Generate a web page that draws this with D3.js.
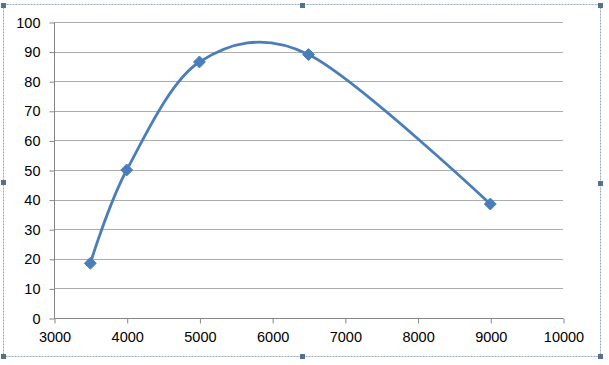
<!DOCTYPE html>
<html>
<head>
<meta charset="utf-8">
<script src="https://cdn.jsdelivr.net/npm/d3@7"></script>
<style>
  body { margin: 0; background: #fff; }
  svg { display: block; font-family: Lato, "Open Sans", sans-serif; }
</style>
</head>
<body>
<script>
// data
var xValues = [3500, 4000, 5000, 6500, 9000];
var yValues = [18.5, 50, 86.5, 89, 38.5];
var xTicks = [3000, 4000, 5000, 6000, 7000, 8000, 9000, 10000];
var yTicks = [0, 10, 20, 30, 40, 50, 60, 70, 80, 90, 100];

const width = 609;
const height = 365;

const points = xValues.map(function (x, i) { return { x: x, y: yValues[i] }; });

const svg = d3.select("body").append("svg")
  .attr("width", width)
  .attr("height", height);

// chart frame (selected chart look)
svg.append("rect")
  .attr("x", 3.5).attr("y", 4.5)
  .attr("width", 597).attr("height", 352)
  .attr("fill", "none")
  .attr("stroke", "#9aa6b4")
  .attr("stroke-width", 1)
  .attr("stroke-dasharray", "2,1");

const xScale = d3.scaleLinear().domain([3000, 10000]).range([54, 563]);
const yScale = d3.scaleLinear().domain([0, 100]).range([318, 22]);

// gridlines
svg.append("g")
  .selectAll("line")
  .data(yTicks.filter(function (d) { return d > 0; }))
  .enter().append("line")
  .attr("x1", xScale(3000)).attr("x2", xScale(10000))
  .attr("y1", function (d) { return Math.round(yScale(d)) + 0.5; })
  .attr("y2", function (d) { return Math.round(yScale(d)) + 0.5; })
  .attr("stroke", "#ababab")
  .attr("stroke-width", 1.2);

// axes
const yAxis = d3.axisLeft(yScale).tickValues(yTicks).tickSize(5).tickPadding(9).tickFormat(d3.format("d"));
const yg = svg.append("g")
  .attr("transform", "translate(" + (xScale(3000) + 0.5) + ",0.5)")
  .call(yAxis);

const xAxis = d3.axisBottom(xScale).tickValues(xTicks).tickSize(5).tickPadding(8).tickFormat(d3.format("d"));
const xg = svg.append("g")
  .attr("transform", "translate(0.5," + (yScale(0) + 0.5) + ")")
  .call(xAxis);

[yg, xg].forEach(function (g) {
  g.select(".domain").attr("stroke", "#868686").attr("stroke-width", 1);
  g.selectAll(".tick line").attr("stroke", "#868686");
  g.selectAll(".tick text").attr("fill", "#000").style("font-size", "14.5px");
});
yg.select(".domain").attr("d", "M0," + yScale(100) + "V" + yScale(0));
xg.select(".domain").attr("d", "M" + xScale(3000) + ",0H" + xScale(10000));

// smooth line
const line = d3.line()
  .x(function (d) { return xScale(d.x); })
  .y(function (d) { return yScale(d.y); })
  .curve(d3.curveCardinal.tension(0.05));

svg.append("path")
  .datum(points)
  .attr("d", line)
  .attr("fill", "none")
  .attr("stroke", "#4a7ebb")
  .attr("stroke-width", 2.8);

// diamond markers
svg.selectAll(".marker")
  .data(points)
  .enter().append("path")
  .attr("class", "marker")
  .attr("transform", function (d) { return "translate(" + xScale(d.x) + "," + yScale(d.y) + ")"; })
  .attr("d", d3.symbol().type(d3.symbolDiamond2).size(90))
  .attr("fill", "#4a7ebb")
  .attr("stroke", "#4a7ebb")
  .attr("stroke-width", 1);

// selection handles
var handles = [[3, 5], [302, 5], [600, 5], [3, 182], [600, 183], [3, 356], [302, 356], [600, 356]];
svg.selectAll(".handle")
  .data(handles)
  .enter().append("rect")
  .attr("class", "handle")
  .attr("x", function (d) { return d[0] - 2; })
  .attr("y", function (d) { return d[1] - 2; })
  .attr("width", 5).attr("height", 5)
  .attr("fill", "#56708f");
</script>
</body>
</html>
